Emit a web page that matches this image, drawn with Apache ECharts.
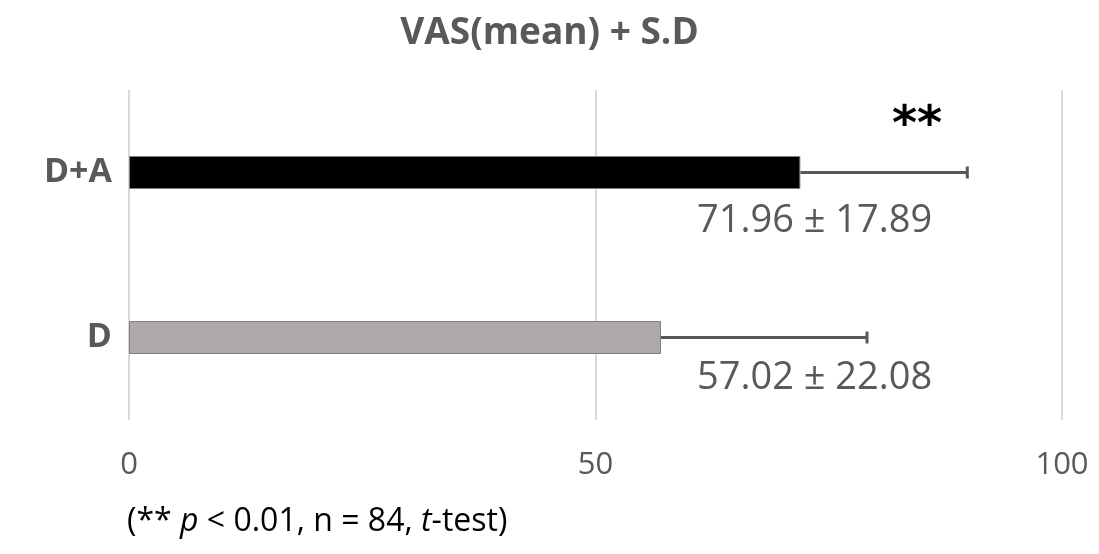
<!DOCTYPE html>
<html>
<head>
<meta charset="utf-8">
<script src="https://cdn.jsdelivr.net/npm/echarts@6/dist/echarts.min.js"></script>
<style>
  html, body { margin: 0; padding: 0; background: #fff; }
  #chart { width: 1099px; height: 554px; }
</style>
</head>
<body>
<div id="chart"></div>
<script>
// 数据
const categories = ['D+A', 'D'];
const means = [71.96, 57.02];
const sds = [17.89, 22.08];
const barColors = ['#000000', '#aeaaaa'];
const xTicks = [0, 50, 100];

const chart = echarts.init(document.getElementById('chart'));
const grey = '#595959';
const font = '"Open Sans", "DejaVu Sans", sans-serif';

// 误差线数据 [mean, sd, 类别索引]
const errData = means.map((m, i) => [m, sds[i], i]);

const option = {
  animation: false,
  textStyle: { fontFamily: font },
  title: {
    text: 'VAS(mean) + S.D',
    left: 'center',
    top: 10,
    textStyle: { fontSize: 37, fontWeight: 'bold', color: grey, fontFamily: font }
  },
  grid: { left: 129, right: 37, top: 90, bottom: 134 },
  xAxis: {
    type: 'value',
    min: xTicks[0],
    max: xTicks[xTicks.length - 1],
    interval: 50,
    axisLine: { show: false },
    axisTick: { show: false },
    splitLine: { lineStyle: { color: '#d9d9d9', width: 2 } },
    axisLabel: { fontSize: 31, color: grey, margin: 30 }
  },
  yAxis: {
    type: 'category',
    data: categories,
    inverse: true,
    axisLine: { show: false },
    axisTick: { show: false },
    axisLabel: { fontSize: 34, fontWeight: 'bold', color: grey, margin: 17 }
  },
  series: [
    {
      type: 'bar',
      barWidth: 33,
      data: means.map((v, i) => ({
        value: v,
        itemStyle: { color: barColors[i], borderColor: '#7f7f7f', borderWidth: 1 }
      }))
    },
    {
      type: 'custom',
      data: errData,
      encode: { x: 0, y: 2 },
      z: 3,
      renderItem: function (params, api) {
        const m = api.value(0), s = api.value(1), c = api.value(2);
        const p0 = api.coord([m, c]);
        const p1 = api.coord([m + s, c]);
        const style = { stroke: grey, lineWidth: 3 };
        return {
          type: 'group',
          children: [
            { type: 'line', shape: { x1: p0[0], y1: p0[1], x2: p1[0], y2: p1[1] }, style: style },
            { type: 'line', shape: { x1: p1[0], y1: p1[1] - 6, x2: p1[0], y2: p1[1] + 6 }, style: style }
          ]
        };
      }
    }
  ],
  graphic: [
    {
      type: 'text', left: 892, top: 103,
      style: { text: '**', font: 'bold 48px "DejaVu Sans", sans-serif', fill: '#000' }
    },
    {
      type: 'text', left: 697, top: 202,
      style: { text: means[0].toFixed(2) + ' ± ' + sds[0].toFixed(2), font: '38px "Open Sans", sans-serif', fill: grey }
    },
    {
      type: 'text', left: 697, top: 359,
      style: { text: means[1].toFixed(2) + ' ± ' + sds[1].toFixed(2), font: '38px "Open Sans", sans-serif', fill: grey }
    },
    {
      type: 'text', left: 127, top: 506,
      style: {
        text: '{n|(** }{i|p}{n| < 0.01, n = 84, }{i|t}{n|-test)}',
        rich: {
          n: { fontSize: 32, color: '#1a1a1a', fontFamily: font },
          i: { fontSize: 32, color: '#1a1a1a', fontStyle: 'italic', fontFamily: font }
        }
      }
    }
  ]
};

chart.setOption(option);
</script>
</body>
</html>
